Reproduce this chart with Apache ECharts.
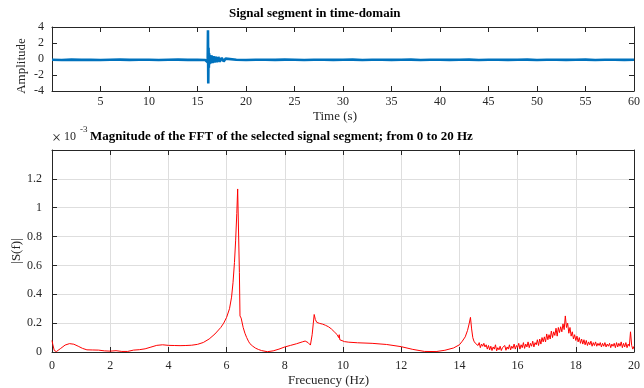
<!DOCTYPE html>
<html>
<head>
<meta charset="utf-8">
<script src="https://cdn.jsdelivr.net/npm/echarts@6/dist/echarts.min.js"></script>
<style>html,body{margin:0;padding:0;background:#fff}#c{width:644px;height:388px}</style>
</head>
<body>
<div id="c"></div>
<script>
// ---- Data ----
// Time-domain segment: [time (s), amplitude]
const timeSignal = [
  [0,-0.1],[1,-0.12],[2,-0.08],[3,-0.11],[4,-0.09],[5,-0.12],[6,-0.1],[7,-0.08],[8,-0.11],[9,-0.1],
  [10,-0.09],[11,-0.12],[12,-0.1],[13,-0.08],[14,-0.11],[15,-0.1],[15.8,-0.12],[16.0,-0.1],
  [16.05,-0.4],[16.08,3.6],[16.11,-3.05],[16.14,1.4],[16.17,-1.1],[16.2,0.7],[16.24,-0.65],
  [16.3,0.5],[16.36,-0.55],[16.45,0.45],[16.55,-0.5],[16.65,0.35],[16.75,-0.45],[16.85,0.3],
  [17.0,-0.4],[17.15,0.25],[17.3,-0.35],[17.5,0.15],[17.7,-0.3],[17.9,0.05],[18.1,-0.2],
  [19,-0.1],[20,-0.12],[21,-0.09],[22,-0.1],[23,-0.11],[24,-0.08],[25,-0.1],[26,-0.12],[27,-0.1],
  [28,-0.09],[29,-0.11],[30,-0.1],[31,-0.08],[32,-0.12],[33,-0.1],[34,-0.09],[35,-0.11],[36,-0.1],
  [37,-0.08],[38,-0.12],[39,-0.1],[40,-0.09],[41,-0.11],[42,-0.1],[43,-0.08],[44,-0.12],[45,-0.1],
  [46,-0.09],[47,-0.11],[48,-0.1],[49,-0.08],[50,-0.12],[51,-0.1],[52,-0.09],[53,-0.11],[54,-0.1],
  [55,-0.08],[56,-0.12],[57,-0.1],[58,-0.09],[59,-0.11],[60,-0.1]
];
// FFT magnitude (x1e-3), smooth part 0 - 14.55 Hz: [freq (Hz), |S(f)|]
const fftLow = [
  [0,0.08],[0.03,0.05],[0.08,0.01],[0.15,0.003],[0.3,0.025],[0.45,0.048],[0.6,0.058],[0.75,0.054],
  [0.9,0.04],[1.05,0.025],[1.2,0.015],[1.4,0.014],[1.6,0.013],[1.8,0.008],[2.0,0.006],[2.2,0.009],
  [2.4,0.004],[2.6,0.004],[2.8,0.013],[3.0,0.016],[3.2,0.022],[3.4,0.034],[3.6,0.046],[3.8,0.05],
  [4.0,0.046],[4.2,0.045],[4.4,0.044],[4.6,0.045],[4.8,0.047],[5.0,0.053],[5.2,0.066],[5.4,0.09],
  [5.6,0.125],[5.8,0.17],[5.9,0.2],[6.0,0.24],[6.1,0.3],[6.17,0.38],[6.22,0.48],[6.27,0.62],
  [6.31,0.77],[6.35,0.96],[6.38,1.13],[6.40,1.12],[6.42,1.13],[6.44,0.55],[6.46,0.25],[6.5,0.235],
  [6.57,0.17],[6.63,0.13],[6.69,0.1],[6.75,0.075],[6.8,0.058],[6.9,0.04],[7.0,0.026],[7.1,0.017],
  [7.2,0.01],[7.4,0.002],[7.6,0.008],[7.8,0.02],[8.0,0.035],[8.2,0.046],[8.4,0.057],[8.6,0.07],
  [8.7,0.076],[8.8,0.065],[8.88,0.048],[8.94,0.12],[8.98,0.2],[9.01,0.26],[9.05,0.225],[9.1,0.205],
  [9.2,0.198],[9.3,0.193],[9.4,0.185],[9.5,0.175],[9.6,0.16],[9.7,0.14],[9.8,0.12],[9.85,0.1],
  [9.87,0.12],[9.89,0.085],[9.95,0.078],[10.05,0.072],[10.2,0.068],[10.5,0.064],[11.0,0.06],
  [11.5,0.052],[12.0,0.037],[12.4,0.018],[12.8,0.004],[13.2,0.003],[13.5,0.012],[13.8,0.028],
  [14.0,0.05],[14.1,0.075],[14.2,0.105],[14.28,0.15],[14.34,0.2],[14.38,0.24],[14.42,0.16],
  [14.46,0.1],[14.5,0.075],[14.55,0.06]
];
// FFT magnitude (x1e-3), noisy part 14.6 - 20 Hz
const fftHigh = [
  [14.60,0.07],[14.64,0.045],[14.68,0.065],[14.72,0.03],[14.76,0.055],[14.80,0.04],[14.84,0.06],
  [14.88,0.035],[14.92,0.05],[14.96,0.02],[15.00,0.045],[15.04,0.015],[15.08,0.04],[15.12,0.01],
  [15.16,0.035],[15.20,0.02],[15.24,0.05],[15.28,0.008],[15.32,0.03],[15.36,0.015],[15.40,0.04],
  [15.44,0.01],[15.48,0.03],[15.52,0.02],[15.56,0.045],[15.60,0.012],[15.64,0.035],[15.68,0.02],
  [15.72,0.05],[15.76,0.015],[15.80,0.04],[15.84,0.025],[15.88,0.055],[15.92,0.02],[15.96,0.045],
  [16.00,0.03],[16.04,0.06],[16.08,0.02],[16.12,0.05],[16.16,0.03],[16.20,0.065],[16.24,0.025],
  [16.28,0.055],[16.32,0.035],[16.36,0.07],[16.40,0.03],[16.44,0.06],[16.48,0.04],[16.52,0.075],
  [16.56,0.035],[16.60,0.065],[16.64,0.05],[16.68,0.085],[16.72,0.045],[16.76,0.09],[16.80,0.055],
  [16.84,0.1],[16.88,0.07],[16.92,0.105],[16.96,0.07],[17.00,0.125],[17.04,0.085],[17.08,0.12],
  [17.12,0.09],[17.16,0.145],[17.20,0.1],[17.24,0.14],[17.28,0.115],[17.32,0.165],[17.36,0.11],
  [17.40,0.17],[17.44,0.135],[17.48,0.175],[17.52,0.14],[17.56,0.195],[17.60,0.155],[17.64,0.25],
  [17.68,0.17],[17.72,0.2],[17.76,0.13],[17.80,0.17],[17.84,0.11],[17.88,0.14],[17.92,0.09],
  [17.96,0.12],[18.00,0.08],[18.04,0.11],[18.08,0.07],[18.12,0.1],[18.16,0.06],[18.20,0.09],
  [18.24,0.055],[18.28,0.085],[18.32,0.05],[18.36,0.08],[18.40,0.045],[18.44,0.07],[18.48,0.05],
  [18.52,0.075],[18.56,0.04],[18.60,0.065],[18.64,0.045],[18.68,0.07],[18.72,0.04],[18.76,0.06],
  [18.80,0.045],[18.84,0.065],[18.88,0.035],[18.92,0.06],[18.96,0.04],[19.00,0.065],[19.04,0.035],
  [19.08,0.055],[19.12,0.04],[19.16,0.06],[19.20,0.03],[19.24,0.055],[19.28,0.04],[19.32,0.06],
  [19.36,0.03],[19.40,0.065],[19.44,0.035],[19.48,0.06],[19.52,0.04],[19.56,0.07],[19.60,0.03],
  [19.64,0.06],[19.68,0.035],[19.72,0.065],[19.76,0.03],[19.80,0.055],[19.84,0.04],[19.88,0.14],
  [19.92,0.045],[19.96,0.02],[20.00,0.04]
];
const timeTicks = {min: 0, max: 60, interval: 5};
const ampTicks = {min: -4, max: 4, interval: 2};
const freqTicks = {min: 0, max: 20, interval: 2};
const magTicks = {min: 0, max: 1.4, interval: 0.2};

const topTitle = 'Signal segment in time-domain';
const bottomTitle = 'Magnitude of the FFT of the selected signal segment; from 0 to 20 Hz';

// ---- Chart ----
const FONT = '"Liberation Serif", "DejaVu Serif", serif';
const TXT = '#262626';
const AX = '#262626';
const chart = echarts.init(document.getElementById('c'), null, {renderer: 'canvas'});

function baseAxis(gridIndex, t, extra) {
  return Object.assign({
    type: 'value', gridIndex: gridIndex,
    min: t.min, max: t.max, interval: t.interval,
    nameMoveOverlap: false,
    axisLine: {show: true, onZero: false, lineStyle: {color: AX, width: 1}},
    axisTick: {show: true, inside: true, length: 5, lineStyle: {color: AX}},
    axisLabel: {color: TXT, fontFamily: FONT, fontSize: 12},
    splitLine: {show: false}
  }, extra);
}
const fmtNum = v => String(parseFloat(v.toFixed(1)));

const option = {
  animation: false,
  backgroundColor: '#fff',
  grid: [
    {left: 52, right: 10, top: 27, height: 64, containLabel: false, outerBoundsMode: 'none'},
    {left: 52, right: 10, top: 150, bottom: 36, containLabel: false, outerBoundsMode: 'none'}
  ],
  xAxis: [
    baseAxis(0, timeTicks, {position: 'bottom',
      axisLabel: {color: TXT, fontFamily: FONT, fontSize: 12, margin: 5,
        formatter: v => v === 0 ? '' : String(v)},
      name: 'Time (s)', nameLocation: 'middle', nameGap: 19,
      nameTextStyle: {color: TXT, fontFamily: FONT, fontSize: 13, padding: [0, 16, 0, 0]}}),
    baseAxis(0, timeTicks, {position: 'top', axisLabel: {show: false}}),
    baseAxis(1, freqTicks, {position: 'bottom',
      axisLabel: {color: TXT, fontFamily: FONT, fontSize: 12, margin: 8},
      splitLine: {show: true, lineStyle: {color: '#dedede', width: 1}},
      name: 'Frecuency (Hz)', nameLocation: 'middle', nameGap: 22,
      nameTextStyle: {color: TXT, fontFamily: FONT, fontSize: 13, padding: [0, 29, 0, 0]}}),
    baseAxis(1, freqTicks, {position: 'top', axisLabel: {show: false}})
  ],
  yAxis: [
    baseAxis(0, ampTicks, {position: 'left',
      axisLabel: {color: TXT, fontFamily: FONT, fontSize: 12, margin: 8},
      name: 'Amplitude', nameLocation: 'middle', nameRotate: 90, nameGap: 24,
      nameTextStyle: {color: TXT, fontFamily: FONT, fontSize: 13, padding: [0, 14, 0, 0]}}),
    baseAxis(0, ampTicks, {position: 'right', axisLabel: {show: false}}),
    baseAxis(1, magTicks, {position: 'left',
      axisLabel: {color: TXT, fontFamily: FONT, fontSize: 12, margin: 10,
        formatter: v => v > 1.35 ? '' : fmtNum(v)},
      splitLine: {show: true, lineStyle: {color: '#dedede', width: 1}},
      name: '|S(f)|', nameLocation: 'middle', nameRotate: 90, nameGap: 29,
      nameTextStyle: {color: TXT, fontFamily: FONT, fontSize: 13}}),
    baseAxis(1, magTicks, {position: 'right', axisLabel: {show: false}})
  ],
  series: [
    {type: 'line', xAxisIndex: 0, yAxisIndex: 0, data: timeSignal, showSymbol: false,
      lineStyle: {color: '#0072BD', width: 2.6}, itemStyle: {color: '#0072BD'}, z: 3},
    {type: 'line', xAxisIndex: 2, yAxisIndex: 2, data: fftLow.concat(fftHigh), showSymbol: false,
      lineStyle: {color: '#ff0000', width: 1}, itemStyle: {color: '#ff0000'}, z: 3}
  ],
  graphic: [
    {type: 'text', x: 229, y: 7, style: {text: topTitle, fill: '#000',
      font: 'bold 13px ' + FONT}},
    {type: 'text', x: 90, y: 130, style: {text: bottomTitle, fill: '#000',
      font: 'bold 13px ' + FONT}},
    {type: 'text', x: 52, y: 131, style: {text: '\u00d7', fill: TXT, font: '16px ' + FONT}},
    {type: 'text', x: 64, y: 131, style: {text: '10', fill: TXT, font: '12px ' + FONT}},
    {type: 'text', x: 80, y: 125, style: {text: '-3', fill: TXT, font: '9px ' + FONT}}
  ]
};
chart.setOption(option);
</script>
</body>
</html>
